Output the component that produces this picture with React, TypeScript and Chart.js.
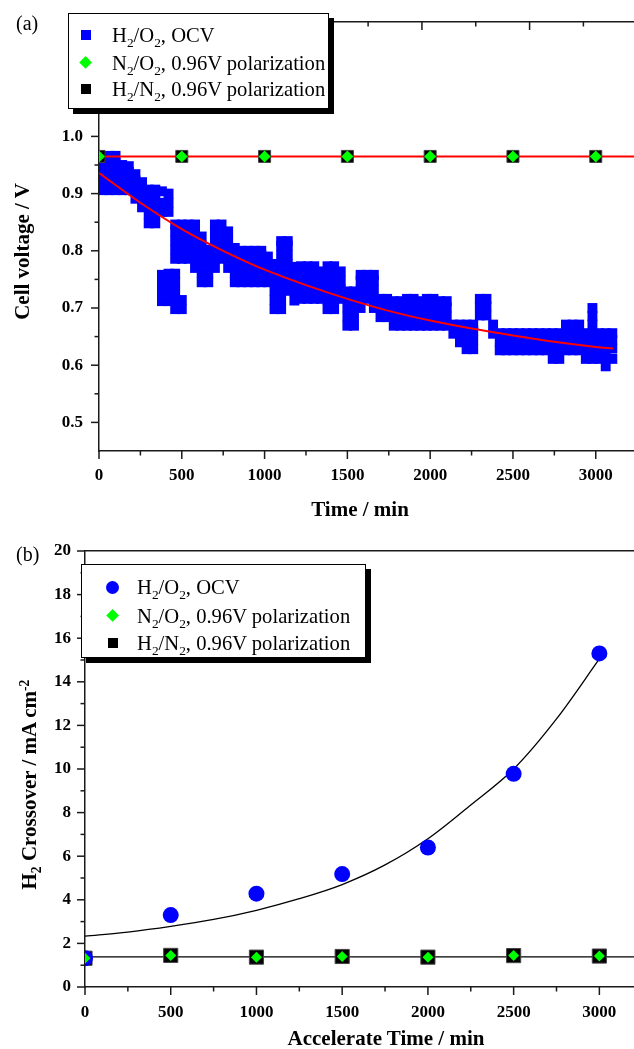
import React, { useEffect, useRef } from 'react';
import { Chart, registerables } from 'chart.js';

Chart.register(...registerables);

// ---------------- Panel (a) data ----------------
const timeMajorTicks = [0, 500, 1000, 1500, 2000, 2500, 3000];
const timeMinorTicks = [250, 750, 1250, 1750, 2250, 2750];
const voltageMajorTicks = [0.5, 0.6, 0.7, 0.8, 0.9, 1.0];
const voltageMinorTicks = [0.55, 0.65, 0.75, 0.85, 0.95, 1.05];
const topAxisMajorTicks = [0, 1, 2, 3, 4];
const topAxisMinorTicks = [0.5, 1.5, 2.5, 3.5, 4.5];

// H2/O2 OCV record: time (min) -> voltages read in that column
const ocvColumns: [number, number[]][] = [
  [25, [0.906, 0.922, 0.938, 0.954]],
  [60, [0.906, 0.922, 0.938, 0.954, 0.966]],
  [100, [0.906, 0.922, 0.938, 0.954, 0.966]],
  [140, [0.906, 0.922, 0.938, 0.95]],
  [180, [0.906, 0.922, 0.938, 0.948]],
  [220, [0.891, 0.907, 0.923, 0.934]],
  [260, [0.876, 0.891, 0.907, 0.92]],
  [300, [0.848, 0.864, 0.88, 0.896, 0.907]],
  [340, [0.848, 0.864, 0.88, 0.896, 0.907]],
  [380, [0.712, 0.728, 0.744, 0.758, 0.868, 0.884, 0.904]],
  [420, [0.712, 0.728, 0.744, 0.76, 0.868, 0.884, 0.9]],
  [460, [0.698, 0.714, 0.73, 0.746, 0.76, 0.786, 0.802, 0.818, 0.834, 0.846]],
  [500, [0.698, 0.714, 0.786, 0.802, 0.818, 0.834, 0.846]],
  [540, [0.786, 0.802, 0.818, 0.834, 0.846]],
  [580, [0.77, 0.786, 0.802, 0.818, 0.834, 0.846]],
  [620, [0.745, 0.761, 0.777, 0.793, 0.809, 0.825]],
  [660, [0.745, 0.761, 0.777, 0.793, 0.802]],
  [700, [0.77, 0.786, 0.802, 0.818, 0.834, 0.846]],
  [740, [0.786, 0.802, 0.818, 0.834, 0.846]],
  [780, [0.77, 0.786, 0.802, 0.818, 0.834]],
  [820, [0.745, 0.761, 0.777, 0.793, 0.805]],
  [860, [0.745, 0.761, 0.777, 0.793, 0.8]],
  [900, [0.745, 0.761, 0.777, 0.793, 0.8]],
  [940, [0.745, 0.761, 0.777, 0.793, 0.8]],
  [980, [0.745, 0.761, 0.777, 0.793, 0.8]],
  [1020, [0.745, 0.761, 0.777, 0.79]],
  [1060, [0.698, 0.714, 0.73, 0.745, 0.761, 0.777]],
  [1100, [0.698, 0.714, 0.73, 0.745, 0.761, 0.777, 0.793, 0.809, 0.817]],
  [1140, [0.73, 0.745, 0.761, 0.777, 0.793, 0.809, 0.817]],
  [1180, [0.713, 0.729, 0.745, 0.761, 0.772]],
  [1220, [0.716, 0.732, 0.748, 0.764, 0.773]],
  [1260, [0.716, 0.732, 0.748, 0.764, 0.773]],
  [1300, [0.716, 0.732, 0.748, 0.764, 0.773]],
  [1340, [0.716, 0.732, 0.748, 0.764]],
  [1380, [0.698, 0.714, 0.73, 0.746, 0.762, 0.773]],
  [1420, [0.698, 0.714, 0.73, 0.746, 0.762, 0.773]],
  [1460, [0.716, 0.732, 0.748, 0.764]],
  [1500, [0.669, 0.685, 0.701, 0.717, 0.729]],
  [1540, [0.669, 0.685, 0.701, 0.717, 0.729]],
  [1580, [0.7, 0.716, 0.732, 0.748, 0.758]],
  [1620, [0.716, 0.732, 0.748, 0.758]],
  [1660, [0.7, 0.716, 0.732, 0.748, 0.758]],
  [1700, [0.684, 0.7, 0.716]],
  [1740, [0.684, 0.7, 0.716]],
  [1780, [0.669, 0.685, 0.701, 0.712]],
  [1820, [0.669, 0.685, 0.701, 0.712]],
  [1860, [0.669, 0.685, 0.701, 0.716]],
  [1900, [0.669, 0.685, 0.701, 0.716]],
  [1940, [0.669, 0.685, 0.701, 0.712]],
  [1980, [0.669, 0.685, 0.701, 0.716]],
  [2020, [0.669, 0.685, 0.701, 0.716]],
  [2060, [0.669, 0.685, 0.701, 0.712]],
  [2100, [0.669, 0.685, 0.701, 0.712]],
  [2140, [0.655, 0.671]],
  [2180, [0.64, 0.655, 0.671]],
  [2220, [0.628, 0.644, 0.66, 0.671]],
  [2260, [0.628, 0.644, 0.66, 0.671]],
  [2300, [0.687, 0.703, 0.716]],
  [2340, [0.687, 0.703, 0.716]],
  [2380, [0.655, 0.671]],
  [2420, [0.626, 0.641, 0.656]],
  [2460, [0.626, 0.641, 0.656]],
  [2500, [0.626, 0.641, 0.656]],
  [2540, [0.626, 0.641, 0.656]],
  [2580, [0.626, 0.641, 0.656]],
  [2620, [0.626, 0.641, 0.656]],
  [2660, [0.626, 0.641, 0.656]],
  [2700, [0.626, 0.641, 0.656]],
  [2740, [0.611, 0.626, 0.641, 0.656]],
  [2780, [0.611, 0.626, 0.641, 0.656]],
  [2820, [0.626, 0.641, 0.656, 0.671]],
  [2860, [0.626, 0.641, 0.656, 0.671]],
  [2900, [0.626, 0.641, 0.656, 0.671]],
  [2940, [0.611, 0.626, 0.641, 0.656]],
  [2980, [0.611, 0.626, 0.641, 0.656, 0.671, 0.686, 0.7]],
  [3020, [0.611, 0.626, 0.641, 0.656]],
  [3060, [0.598, 0.614, 0.629, 0.644, 0.656]],
  [3100, [0.611, 0.629, 0.644, 0.656]],
];

const ocvFitTime = [0, 250, 500, 750, 1000, 1250, 1500, 1750, 2000, 2250, 2500, 2750, 3000, 3105];
const ocvFitVoltage = [0.936, 0.884, 0.838, 0.8, 0.767, 0.74, 0.716, 0.695, 0.678, 0.664, 0.652, 0.641, 0.632, 0.629];

const polarizationTime = [0, 500, 1000, 1500, 2000, 2500, 3000];
const n2o2Voltage = [0.965, 0.965, 0.965, 0.965, 0.965, 0.965, 0.965];
const h2n2Voltage = [0.965, 0.965, 0.965, 0.965, 0.965, 0.965, 0.965];
const TIME_MAX_A = 3231;
const polarizationFitTime = [0, TIME_MAX_A];
const polarizationFitVoltage = [0.965, 0.965];

// ---------------- Panel (b) data ----------------
const crossoverTime = [0, 500, 1000, 1500, 2000, 2500, 3000];
const ocvCrossover = [1.32, 3.3, 4.28, 5.18, 6.4, 9.78, 15.3];
const n2o2Crossover = [1.32, 1.45, 1.37, 1.4, 1.37, 1.44, 1.42];
const h2n2Crossover = [1.32, 1.45, 1.37, 1.4, 1.37, 1.44, 1.42];
const crossoverFitTime = [0, 250, 500, 750, 1000, 1250, 1500, 1750, 2000, 2250, 2500, 2750, 3000];
const crossoverFitValue = [2.33, 2.52, 2.78, 3.1, 3.52, 4.05, 4.7, 5.6, 6.8, 8.35, 10.0, 12.3, 15.05];
const TIME_MAX_B = 3202;
const baselineFitTime = [0, TIME_MAX_B];
const baselineFitValue = [1.38, 1.38];
const crossoverMajorTicks = [0, 2, 4, 6, 8, 10, 12, 14, 16, 18, 20];
const crossoverMinorTicks = [1, 3, 5, 7, 9, 11, 13, 15, 17, 19];

const legendLabels = ['H_2/O_2, OCV', 'N_2/O_2, 0.96V polarization', 'H_2/N_2, 0.96V polarization'];

// ---------------- styling ----------------
const SERIF = "'Liberation Serif', 'Times New Roman', Times, serif";
const BLUE = '#0000FF';
const GREEN = '#00FF00';
const RED = '#FF0000';
const AXIS_COLOR = '#1a1a1a';
const AXIS_WIDTH = 1.5;
const TICK_FONT = { family: SERIF, size: 17, weight: 'bold' as const };

const zip = (xs: number[], ys: number[]) => xs.map((x, i) => ({ x, y: ys[i] }));
const ocvPoints = ocvColumns.flatMap(([t, vs]) => vs.map((v) => ({ x: t, y: v })));

const tickMarksPlugin = {
  id: 'tickMarks',
  afterDraw(chart: any, _args: any, opts: any) {
    const ctx = chart.ctx;
    ctx.save();
    ctx.strokeStyle = AXIS_COLOR;
    ctx.lineWidth = AXIS_WIDTH;
    for (const spec of opts.specs || []) {
      const scale = chart.scales[spec.scale];
      if (!scale) continue;
      for (const v of spec.values) {
        const p = scale.getPixelForValue(v);
        ctx.beginPath();
        if (scale.position === 'bottom') {
          ctx.moveTo(p, scale.top);
          ctx.lineTo(p, scale.top + spec.dir * spec.len);
        } else if (scale.position === 'top') {
          ctx.moveTo(p, scale.bottom);
          ctx.lineTo(p, scale.bottom - spec.dir * spec.len);
        } else {
          ctx.moveTo(scale.right, p);
          ctx.lineTo(scale.right - spec.dir * spec.len, p);
        }
        ctx.stroke();
      }
    }
    ctx.restore();
  },
};

function axis(
  position: string,
  min: number,
  max: number,
  labelTicks: number[],
  size: number,
  padding: number,
  fmt: (v: number) => string,
  showLabels = true
) {
  const horizontal = position === 'top' || position === 'bottom';
  return {
    type: 'linear',
    position,
    min,
    max,
    grid: { display: false, drawTicks: false, tickLength: 0 },
    border: { display: true, color: AXIS_COLOR, width: AXIS_WIDTH },
    ticks: {
      display: showLabels,
      font: TICK_FONT,
      color: '#000',
      padding,
      autoSkip: false,
      maxRotation: 0,
      minRotation: 0,
      callback: (v: any) => fmt(Number(v)),
    },
    afterBuildTicks: (s: any) => {
      s.ticks = labelTicks.map((v) => ({ value: v }));
    },
    afterFit: (s: any) => {
      if (horizontal) s.height = size;
      else s.width = size;
      s.paddingLeft = 0;
      s.paddingRight = 0;
      s.paddingTop = 0;
      s.paddingBottom = 0;
    },
  };
}

const baseOptions = {
  responsive: false,
  animation: false,
  devicePixelRatio: 1,
  events: [],
  layout: { padding: 0, autoPadding: false },
};

function configA(): any {
  return {
    type: 'scatter',
    data: {
      datasets: [
        { label: legendLabels[0], data: ocvPoints, pointStyle: 'rect', pointRadius: 7, backgroundColor: BLUE, borderWidth: 0, order: 5 },
        { label: 'fit', data: zip(ocvFitTime, ocvFitVoltage), showLine: true, borderColor: RED, borderWidth: 2, pointRadius: 0, cubicInterpolationMode: 'monotone', order: 4 },
        { label: 'fit2', data: zip(polarizationFitTime, polarizationFitVoltage), showLine: true, borderColor: RED, borderWidth: 2, pointRadius: 0, order: 3 },
        { label: legendLabels[2], data: zip(polarizationTime, h2n2Voltage), pointStyle: 'rect', pointRadius: 8.5, backgroundColor: '#000', borderColor: '#444', borderWidth: 1, order: 2 },
        { label: legendLabels[1], data: zip(polarizationTime, n2o2Voltage), pointStyle: 'rectRot', pointRadius: 6, backgroundColor: GREEN, borderWidth: 0, order: 1 },
      ],
    },
    options: {
      ...baseOptions,
      plugins: {
        legend: { display: false },
        tooltip: { enabled: false },
        tickMarks: {
          specs: [
            { scale: 'x', values: timeMajorTicks, len: 8, dir: 1 },
            { scale: 'x', values: timeMinorTicks, len: 4.5, dir: 1 },
            { scale: 'y', values: voltageMajorTicks, len: 8, dir: 1 },
            { scale: 'y', values: voltageMinorTicks, len: 4.5, dir: 1 },
            { scale: 'x2', values: topAxisMajorTicks, len: 8, dir: -1 },
            { scale: 'x2', values: topAxisMinorTicks, len: 4.5, dir: -1 },
          ],
        },
      },
      scales: {
        x: axis('bottom', 0, TIME_MAX_A, timeMajorTicks, 74, 14, (v) => String(v)),
        x2: axis('top', 0, 4.97, topAxisMajorTicks, 22, 0, (v) => String(v), false),
        y: axis('left', 0.45, 1.2, voltageMajorTicks, 99, 16, (v) => v.toFixed(1)),
      },
    },
    plugins: [tickMarksPlugin],
  };
}

function configB(): any {
  return {
    type: 'scatter',
    data: {
      datasets: [
        { label: legendLabels[1], data: zip(crossoverTime, n2o2Crossover), pointStyle: 'rectRot', pointRadius: 5.5, backgroundColor: GREEN, borderWidth: 0, order: 1 },
        { label: legendLabels[0], data: zip(crossoverTime, ocvCrossover), pointStyle: 'circle', pointRadius: 8, backgroundColor: BLUE, borderWidth: 0, order: 2 },
        { label: legendLabels[2], data: zip(crossoverTime, h2n2Crossover), pointStyle: 'rect', pointRadius: 10, backgroundColor: '#000', borderColor: '#444', borderWidth: 1, order: 3 },
        { label: 'fit', data: zip(crossoverFitTime, crossoverFitValue), showLine: true, borderColor: '#000', borderWidth: 1.3, pointRadius: 0, cubicInterpolationMode: 'monotone', order: 4 },
        { label: 'fit2', data: zip(baselineFitTime, baselineFitValue), showLine: true, borderColor: '#000', borderWidth: 1.3, pointRadius: 0, order: 5 },
      ],
    },
    options: {
      ...baseOptions,
      plugins: {
        legend: { display: false },
        tooltip: { enabled: false },
        tickMarks: {
          specs: [
            { scale: 'x', values: timeMajorTicks, len: 8, dir: 1 },
            { scale: 'x', values: timeMinorTicks, len: 4.5, dir: 1 },
            { scale: 'y', values: crossoverMajorTicks, len: 8, dir: 1 },
            { scale: 'y', values: crossoverMinorTicks, len: 4.5, dir: 1 },
          ],
        },
      },
      scales: {
        x: axis('bottom', 0, TIME_MAX_B, timeMajorTicks, 62, 15, (v) => String(v)),
        x2: axis('top', 0, 1, [0], 26, 0, (v) => String(v), false),
        y: axis('left', 0, 20, crossoverMajorTicks, 85, 14, (v) => String(v)),
      },
    },
    plugins: [tickMarksPlugin],
  };
}

// ---------------- text helpers ----------------
function Rich({ text }: { text: string }) {
  const parts = text.split(/(_-?\d|\^-?\d)/).filter((p) => p !== '');
  return (
    <>
      {parts.map((p, i) => {
        if (p.startsWith('_'))
          return (
            <span key={i} style={{ fontSize: '0.65em', position: 'relative', top: '0.38em' }}>
              {p.slice(1)}
            </span>
          );
        if (p.startsWith('^'))
          return (
            <span key={i} style={{ fontSize: '0.65em', position: 'relative', top: '-0.5em' }}>
              {p.slice(1)}
            </span>
          );
        return <span key={i}>{p}</span>;
      })}
    </>
  );
}

function AxisTitle({ text, cx, cy, size, rotate }: { text: string; cx: number; cy: number; size: number; rotate?: boolean }) {
  const w = 400;
  return (
    <div
      style={{
        position: 'absolute',
        left: cx - w / 2,
        top: cy - size / 2,
        width: w,
        height: size,
        lineHeight: `${size}px`,
        fontSize: size,
        fontWeight: 'bold',
        fontFamily: SERIF,
        textAlign: 'center',
        whiteSpace: 'nowrap',
        color: '#000',
        transform: rotate ? 'rotate(-90deg)' : undefined,
        transformOrigin: 'center center',
      }}
    >
      <Rich text={text} />
    </div>
  );
}

type MarkerKind = 'square' | 'diamond' | 'circle';

function Marker({ kind, color, size, cx, cy }: { kind: MarkerKind; color: string; size: number; cx: number; cy: number }) {
  if (kind === 'diamond') {
    const s = size / Math.SQRT2;
    return (
      <div
        style={{ position: 'absolute', left: cx - s / 2, top: cy - s / 2, width: s, height: s, background: color, transform: 'rotate(45deg)' }}
      />
    );
  }
  return (
    <div
      style={{
        position: 'absolute',
        left: cx - size / 2,
        top: cy - size / 2,
        width: size,
        height: size,
        background: color,
        borderRadius: kind === 'circle' ? '50%' : 0,
      }}
    />
  );
}

function LegendBox({
  left, top, width, height, markerX, textX, rows, markers,
}: {
  left: number; top: number; width: number; height: number; markerX: number; textX: number; rows: number[];
  markers: { kind: MarkerKind; color: string; size: number }[];
}) {
  return (
    <>
      <div
        style={{
          position: 'absolute', left, top, width, height, boxSizing: 'border-box',
          border: '1px solid #000', background: '#fff', boxShadow: '5px 5px 0 #000',
        }}
      />
      {rows.map((cy, i) => (
        <React.Fragment key={i}>
          <Marker kind={markers[i].kind} color={markers[i].color} size={markers[i].size} cx={markerX} cy={cy} />
          <div
            style={{
              position: 'absolute', left: textX, top: cy - 13.5, height: 27, lineHeight: '27px',
              fontSize: 20.6, fontFamily: SERIF, whiteSpace: 'nowrap', color: '#000',
            }}
          >
            <Rich text={legendLabels[i]} />
          </div>
        </React.Fragment>
      ))}
    </>
  );
}

export default function App() {
  const refA = useRef<HTMLCanvasElement>(null);
  const refB = useRef<HTMLCanvasElement>(null);

  useEffect(() => {
    const a = new Chart(refA.current as HTMLCanvasElement, configA());
    const b = new Chart(refB.current as HTMLCanvasElement, configB());
    return () => {
      a.destroy();
      b.destroy();
    };
  }, []);

  return (
    <div style={{ position: 'absolute', left: 0, top: 0, width: 634, height: 1049, overflow: 'hidden', background: '#fff' }}>
      <canvas ref={refA} width={634} height={525} style={{ position: 'absolute', left: 0, top: 0 }} />
      <canvas ref={refB} width={634} height={524} style={{ position: 'absolute', left: 0, top: 525 }} />

      <div style={{ position: 'absolute', left: 16, top: 13, fontSize: 20, lineHeight: '20px', fontFamily: SERIF }}>(a)</div>
      <div style={{ position: 'absolute', left: 16, top: 544, fontSize: 20, lineHeight: '20px', fontFamily: SERIF }}>(b)</div>

      <LegendBox
        left={68} top={13} width={261} height={96} markerX={86} textX={112} rows={[35, 63, 89]}
        markers={[
          { kind: 'square', color: BLUE, size: 10 },
          { kind: 'diamond', color: GREEN, size: 13 },
          { kind: 'square', color: '#000', size: 10 },
        ]}
      />
      <LegendBox
        left={81} top={564} width={285} height={94} markerX={112.5} textX={137} rows={[587, 616, 643]}
        markers={[
          { kind: 'circle', color: BLUE, size: 13 },
          { kind: 'diamond', color: GREEN, size: 13 },
          { kind: 'square', color: '#000', size: 10 },
        ]}
      />

      <AxisTitle text="Time / min" cx={360} cy={509} size={21} />
      <AxisTitle text="Cell voltage / V" cx={22} cy={251} size={21} rotate />
      <AxisTitle text="Accelerate Time / min" cx={386} cy={1038} size={21} />
      <AxisTitle text="H_2 Crossover / mA cm^-2" cx={29} cy={784} size={21} rotate />
    </div>
  );
}
